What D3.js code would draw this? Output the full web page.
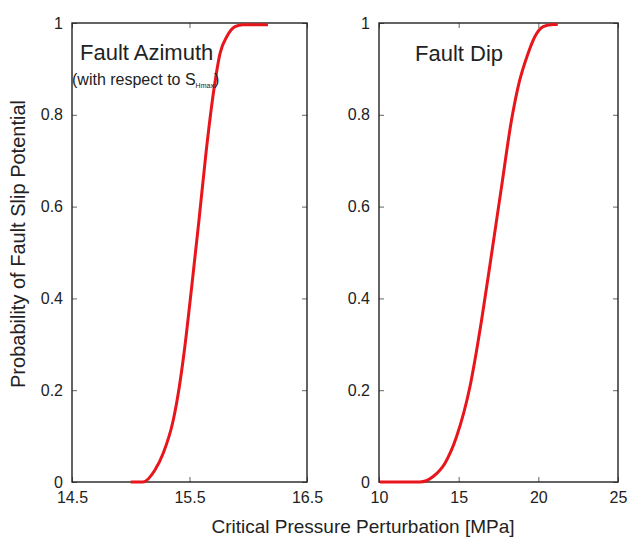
<!DOCTYPE html>
<html>
<head>
<meta charset="utf-8">
<script src="https://cdn.jsdelivr.net/npm/d3@7"></script>
<style>
  body { margin: 0; background: #fff; }
  text { font-family: "Liberation Sans", Arial, sans-serif; fill: #222; }
</style>
</head>
<body>
<div class="graph_container"></div>
<script>
// data (x in MPa, cumulative probability)
const azimuthX = [15.00, 15.104, 15.206, 15.277, 15.362, 15.413, 15.453, 15.519, 15.581, 15.640, 15.711, 15.760, 15.817, 15.887, 15.955, 16.168];
const azimuthP = [0.000, 0.000, 0.026, 0.063, 0.135, 0.207, 0.280, 0.426, 0.571, 0.716, 0.861, 0.934, 0.970, 0.992, 0.996, 0.996];
const dipX = [10.06, 12.57, 13.40, 14.14, 14.87, 15.71, 16.44, 17.07, 17.69, 18.32, 18.73, 19.36, 19.78, 20.30, 20.93, 21.22];
const dipP = [0.000, 0.000, 0.012, 0.041, 0.099, 0.208, 0.353, 0.498, 0.643, 0.789, 0.861, 0.934, 0.970, 0.992, 0.997, 0.997];
const azimuthTicks = [14.5, 15.5, 16.5];
const dipTicks = [10, 15, 20, 25];
const probTicks = [0, 0.2, 0.4, 0.6, 0.8, 1];

//^ DIMENSIONS //
const W = 629, H = 539;
const top_y = 23, bottom_y = 482;

const svg = d3.select(".graph_container").append("svg")
    .attr("width", W).attr("height", H);

const yScale = d3.scaleLinear().domain([0, 1]).range([bottom_y, top_y]);

function drawPanel(xs, ps, domain, ticks, x0, x1) {
    const xScale = d3.scaleLinear().domain(domain).range([x0, x1]);
    const g = svg.append("g");

    // ticks pointing inwards on all four sides
    g.append("g").attr("transform", "translate(0," + bottom_y + ")")
        .call(d3.axisBottom(xScale).tickValues(ticks).tickSize(-5).tickPadding(10).tickFormat(d3.format("~g")));
    g.append("g").attr("transform", "translate(0," + top_y + ")")
        .call(d3.axisTop(xScale).tickValues(ticks).tickSize(-5).tickFormat(""));
    g.append("g").attr("transform", "translate(" + x0 + ",0)")
        .call(d3.axisLeft(yScale).tickValues(probTicks).tickSize(-5).tickPadding(9).tickFormat(d3.format("~g")));
    g.append("g").attr("transform", "translate(" + x1 + ",0)")
        .call(d3.axisRight(yScale).tickValues(probTicks).tickSize(-5).tickFormat(""));

    g.selectAll(".domain").remove();
    g.selectAll(".tick line").attr("stroke", "#666");
    g.selectAll(".tick text").style("font-size", "16px").attr("fill", "#222");

    g.append("rect")
        .attr("x", x0).attr("y", top_y)
        .attr("width", x1 - x0).attr("height", bottom_y - top_y)
        .attr("fill", "none").attr("stroke", "#222").attr("stroke-width", 1.4);

    const line = d3.line()
        .x((d, i) => xScale(xs[i]))
        .y((d, i) => yScale(ps[i]))
        .curve(d3.curveMonotoneX);

    g.append("path")
        .datum(xs)
        .attr("d", line)
        .attr("fill", "none")
        .attr("stroke", "#e8151b")
        .attr("stroke-width", 3)
        .attr("stroke-linejoin", "round");
    return g;
}

const left = drawPanel(azimuthX, azimuthP, [14.5, 16.5], azimuthTicks, 72, 307);
const right = drawPanel(dipX, dipP, [10, 25], dipTicks, 379, 618);

//^ PANEL LABELS //
left.append("text").attr("x", 80).attr("y", 60).style("font-size", "22px").text("Fault Azimuth");
const sub = left.append("text").attr("x", 72).attr("y", 85).style("font-size", "16px");
sub.append("tspan").text("(with respect to S");
sub.append("tspan").attr("dy", 3).style("font-size", "7px").text("Hmax");
sub.append("tspan").attr("dy", -3).text(")");

right.append("text").attr("x", 415).attr("y", 61).style("font-size", "22px").text("Fault Dip");

//^ AXIS TITLES //
svg.append("text")
    .attr("x", 363).attr("y", 533)
    .attr("text-anchor", "middle")
    .style("font-size", "19px")
    .text("Critical Pressure Perturbation [MPa]");

svg.append("text")
    .attr("transform", "translate(25,244) rotate(-90)")
    .attr("text-anchor", "middle")
    .style("font-size", "20px")
    .text("Probability of Fault Slip Potential");
</script>
</body>
</html>
